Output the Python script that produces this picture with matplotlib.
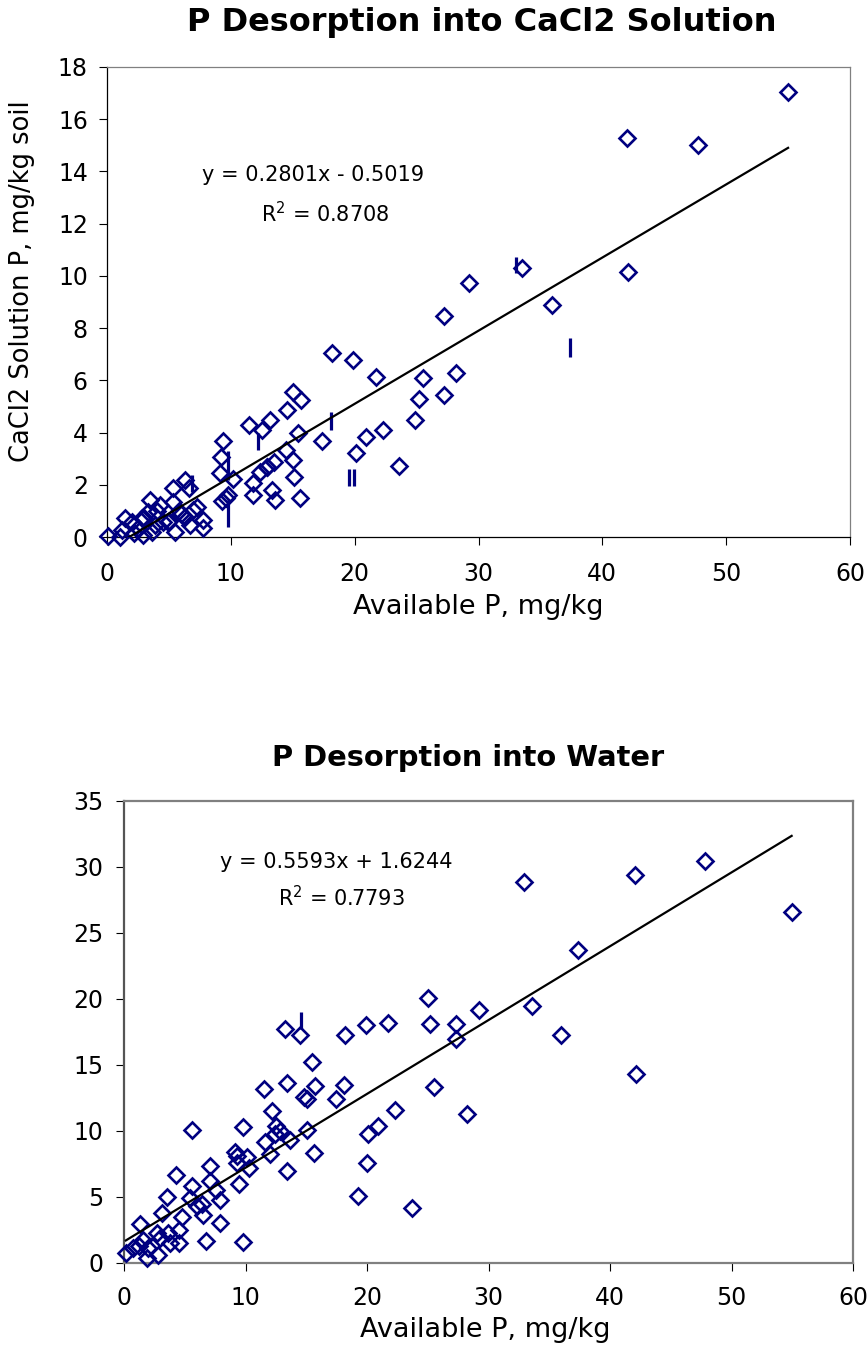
import numpy as np
import matplotlib
matplotlib.use("Agg")
import matplotlib.pyplot as plt

# ---------------- data: CaCl2 chart ----------------
cacl2_x = [55.0, 42.0, 47.75, 33.55, 29.2, 42.1, 35.97, 27.25, 18.2, 19.85,
           21.7, 25.5, 28.2, 25.2, 27.25, 24.9, 22.3, 20.9, 20.1, 23.6,
           17.4, 15.05, 15.67, 14.5, 13.2, 11.5, 12.5, 15.4, 9.34, 9.18,
           14.46, 15.05, 13.5, 12.9, 12.36, 9.13, 10.2, 15.1, 11.8, 11.8,
           13.3, 13.6, 15.6, 9.8, 9.26, 9.6, 6.3, 5.33, 6.6, 3.47,
           4.28, 5.33, 7.24, 6.95, 1.45, 2.0, 3.0, 3.3, 4.5, 3.6,
           2.9, 0.1, 1.05, 1.2, 5.5, 6.3, 6.7, 7.75, 7.75, 5.0,
           4.0, 2.5, 3.9, 5.8, 2.2, 2.8, 4.95, 6.0, 12.9]
cacl2_y = [17.03, 15.3, 15.0, 10.3, 9.72, 10.16, 8.89, 8.48, 7.06, 6.78,
           6.14, 6.08, 6.29, 5.3, 5.44, 4.5, 4.1, 3.84, 3.2, 2.73,
           3.66, 5.57, 5.25, 4.86, 4.5, 4.29, 4.1, 3.97, 3.68, 3.08,
           3.33, 2.95, 2.88, 2.69, 2.5, 2.46, 2.22, 2.31, 2.05, 1.6,
           1.8, 1.42, 1.49, 1.6, 1.38, 1.5, 2.18, 1.87, 1.87, 1.42,
           1.23, 1.35, 1.16, 1.03, 0.73, 0.59, 0.73, 0.97, 0.59, 0.2,
           0.08, 0.04, 0.0, 0.27, 0.2, 0.78, 0.46, 0.34, 0.65, 0.6,
           1.0, 0.35, 0.45, 1.0, 0.15, 0.72, 0.59, 0.9, 2.67]
# stray vertical strokes visible in the source picture (x, y from, y to)
cacl2_bar_x = [33.0, 37.4, 18.1, 19.55, 19.95, 12.2, 9.8, 9.8, 6.9]
cacl2_bar_y0 = [10.1, 6.9, 4.1, 1.95, 1.95, 3.35, 2.2, 0.4, 1.72]
cacl2_bar_y1 = [10.73, 7.62, 4.8, 2.62, 2.62, 4.0, 3.3, 1.4, 2.37]
cacl2_slope, cacl2_icpt = 0.2801, -0.5019
cacl2_eq = "y = 0.2801x - 0.5019"
cacl2_r2 = "R$^2$ = 0.8708"

# ---------------- data: Water chart ----------------
water_x = [54.95, 47.8, 42.06, 32.95, 37.4, 33.6, 36.0, 42.1, 25.0, 25.2,
           27.3, 27.3, 29.2, 25.5, 28.2, 22.3, 21.75, 19.9, 18.2, 20.9,
           20.1, 20.0, 19.3, 23.7, 18.1, 17.45, 15.1, 15.6, 13.25, 14.5,
           15.5, 13.4, 11.5, 15.7, 14.8, 15.1, 12.2, 5.57, 9.8, 12.5,
           12.4, 11.6, 13.7, 12.0, 13.4, 9.14, 9.3, 10.1, 10.3, 9.5,
           9.3, 7.1, 4.3, 7.1, 5.57, 7.6, 3.5, 5.43, 6.4, 7.9,
           6.5, 7.9, 6.75, 9.8, 4.8, 4.5, 4.5, 3.1, 1.3, 2.7,
           3.65, 3.8, 1.6, 0.7, 0.15, 2.0, 1.87, 2.8, 3.0, 1.2,
           12.8, 6.0]
water_y = [26.6, 30.45, 29.4, 28.9, 23.7, 19.5, 17.3, 14.3, 20.1, 18.1,
           18.1, 16.95, 19.2, 13.3, 11.3, 11.6, 18.2, 18.0, 17.3, 10.4,
           9.8, 7.6, 5.1, 4.17, 13.5, 12.4, 10.1, 8.3, 17.7, 17.3,
           15.2, 13.6, 13.2, 13.4, 12.6, 12.4, 11.5, 10.1, 10.3, 10.4,
           9.8, 9.2, 9.3, 8.26, 7.0, 8.4, 8.1, 8.05, 7.2, 6.0,
           7.55, 7.35, 6.7, 6.2, 5.8, 5.5, 5.0, 4.9, 4.5, 4.77,
           3.6, 3.0, 1.7, 1.6, 3.5, 2.5, 1.5, 3.76, 2.95, 2.25,
           2.25, 1.5, 1.74, 1.1, 0.73, 1.1, 0.35, 0.6, 1.9, 1.3,
           10.0, 4.3]
water_bar_x = [14.55]
water_bar_y0 = [17.7]
water_bar_y1 = [19.0]
water_slope, water_icpt = 0.5593, 1.6244
water_eq = "y = 0.5593x + 1.6244"
water_r2 = "R$^2$ = 0.7793"

x_ticks = [0, 10, 20, 30, 40, 50, 60]
cacl2_yticks = [0, 2, 4, 6, 8, 10, 12, 14, 16, 18]
water_yticks = [0, 5, 10, 15, 20, 25, 30, 35]

title_top = "P Desorption into CaCl2 Solution"
title_bot = "P Desorption into Water"
xlabel = "Available P, mg/kg"
ylabel_top = "CaCl2 Solution P, mg/kg soil"

# ---------------- drawing ----------------
plt.rcParams['font.family'] = ['DejaVu Sans']
NAVY = '#000080'
W, H = 867, 1352
fig = plt.figure(figsize=(W / 100, H / 100), dpi=100)

def fx(px):
    return px / W

def fy(py):
    return 1 - py / H

ax1 = fig.add_axes([fx(107), fy(537), fx(850) - fx(107), fy(67) - fy(537)])
ax2 = fig.add_axes([fx(124), fy(1263), fx(853) - fx(124), fy(801) - fy(1263)])

def style(ax, yt, ylim, pad_y, pad_x):
    ax.set_xlim(0, 60)
    ax.set_ylim(*ylim)
    ax.set_xticks(x_ticks)
    ax.set_yticks(yt)
    ax.tick_params(axis='both', direction='out', length=5.8, width=0.8,
                   labelsize=17, colors='black')
    ax.tick_params(axis='y', pad=pad_y)
    ax.tick_params(axis='x', pad=pad_x)

def draw(ax, xs, ys, bx, by0, by1, slope, icpt):
    xs = np.asarray(xs)
    ax.plot(xs, ys, linestyle='none', marker='D', markersize=8.6,
            markerfacecolor='none', markeredgecolor=NAVY, markeredgewidth=1.9,
            clip_on=False, zorder=3)
    ax.vlines(bx, by0, by1, colors=NAVY, linewidth=2.3, zorder=3)
    xl = np.array([xs.min(), xs.max()])
    ax.plot(xl, slope * xl + icpt, color='black', linewidth=1.6, zorder=4)

# top chart
style(ax1, cacl2_yticks, (0, 18), 8, 12)
draw(ax1, cacl2_x, cacl2_y, cacl2_bar_x, cacl2_bar_y0, cacl2_bar_y1,
     cacl2_slope, cacl2_icpt)
for s in ['left', 'bottom']:
    ax1.spines[s].set_color('black')
    ax1.spines[s].set_linewidth(0.9)
for s in ['top', 'right']:
    ax1.spines[s].set_color('#808080')
    ax1.spines[s].set_linewidth(0.9)
ax1.text(16.6, 13.86, cacl2_eq, ha='center', va='center', fontsize=15)
ax1.text(17.6, 12.37, cacl2_r2, ha='center', va='center', fontsize=15)

# bottom chart
style(ax2, water_yticks, (0, 35), 9, 11)
draw(ax2, water_x, water_y, water_bar_x, water_bar_y0, water_bar_y1,
     water_slope, water_icpt)
for s in ['left', 'bottom', 'top', 'right']:
    ax2.spines[s].set_color('#808080')
    ax2.spines[s].set_linewidth(1.6)
ax2.spines['left'].set_color('#555555')
ax2.text(17.45, 30.4, water_eq, ha='center', va='center', fontsize=15)
ax2.text(17.9, 27.65, water_r2, ha='center', va='center', fontsize=15)

# titles and labels
fig.text(fx(482), fy(22), title_top, ha='center', va='center',
         fontsize=23, fontweight='bold')
fig.text(fx(468), fy(758), title_bot, ha='center', va='center',
         fontsize=20.8, fontweight='bold')
fig.text(fx(478), fy(607), xlabel, ha='center', va='center', fontsize=19.5)
fig.text(fx(485), fy(1330), xlabel, ha='center', va='center', fontsize=19.5)
fig.text(fx(22), fy(281), ylabel_top, ha='center', va='center',
         fontsize=18.5, rotation=90)

fig.savefig("out.png", dpi=100, facecolor='white')
